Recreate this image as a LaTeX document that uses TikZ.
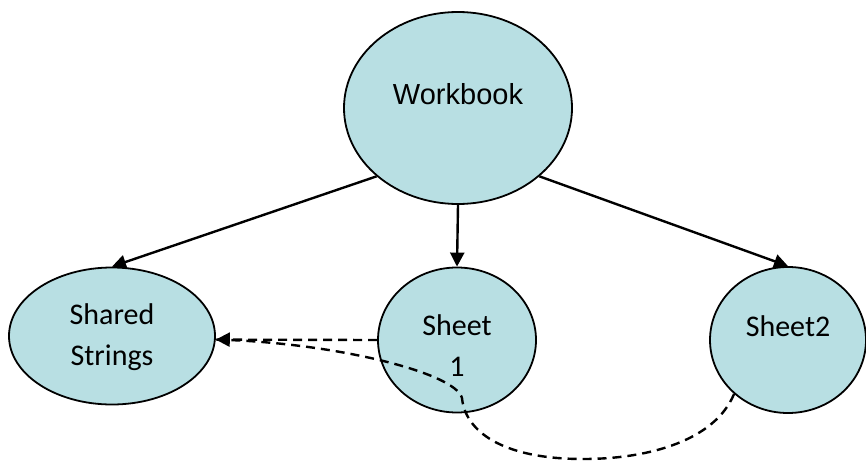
\documentclass[tikz,border=0pt]{standalone}
\usepackage{fontspec}
\setmainfont{Carlito}
\newfontfamily\arialfont{Liberation Sans}
\usetikzlibrary{shapes.geometric,arrows.meta}
\definecolor{bubble}{RGB}{184,223,227}
\tikzset{
  bubble/.style={ellipse, draw=black, line width=1.8pt, fill=bubble, inner sep=0pt},
  txt/.style={font=\fontsize{30}{41}\selectfont, align=center, text=black},
  link/.style={line width=2.4pt, -{Triangle[length=14pt,width=14pt]}},
  dlink/.style={line width=2.4pt, dash pattern=on 9pt off 6pt},
}
\begin{document}
\begin{tikzpicture}[x=1pt,y=-1pt]
\useasboundingbox (0,0) rectangle (866,460);
\node[bubble, minimum width=228pt, minimum height=192pt] (wb) at (458,108) {};
\node[bubble, minimum width=206pt, minimum height=137pt] (ss) at (112,336) {};
\node[bubble, minimum width=158pt, minimum height=145pt] (s1) at (457,340) {};
\node[bubble, minimum width=156pt, minimum height=146pt] (s2) at (788,340) {};
\node[txt, font=\arialfont\fontsize{29}{35}\selectfont] (wbt) at (458,94) {Workbook};
\node[txt] (sst) at (112,337) {Shared\\Strings};
\node[txt] (s1t) at (457,346) {Sheet\\1};
\node[txt] (s2t) at (788,326) {Sheet2};
\draw[link] (wb.220) -- (ss.north);
\draw[link] (wb.south) -- (s1.north);
\draw[link] (wb.320) -- (s2.north);
\draw[dlink] (s2.225) .. controls (715,440) and (650,459) .. (583,459)
  .. controls (500,459) and (465,430) .. (462,398)
  .. controls (455,372) and (330,342) .. (ss.-2);
\draw[link, dash pattern=on 9pt off 6pt] (s1.west) -- (ss.-2);
\end{tikzpicture}
\end{document}
